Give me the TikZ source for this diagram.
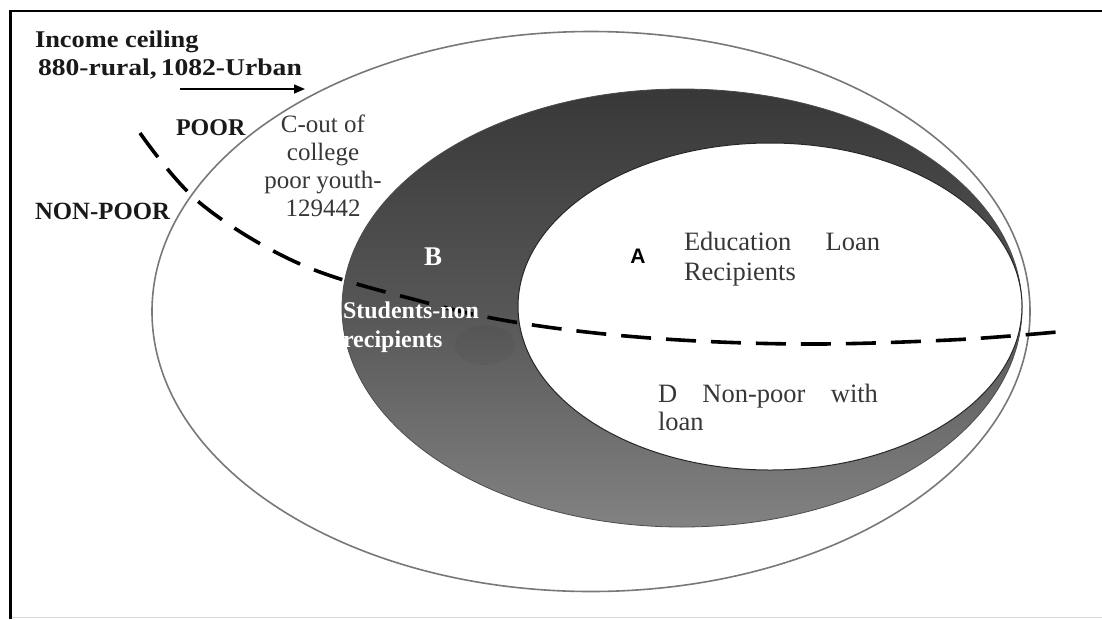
\documentclass[tikz,border=0pt]{standalone}
\usepackage{fontspec}
\setmainfont{Liberation Serif}
\newfontfamily\sansA{Liberation Sans}
\newfontfamily\wideB[FakeStretch=1.10]{Liberation Serif}
\newfontfamily\widerB[FakeStretch=1.15]{Liberation Serif}
\usetikzlibrary{arrows.meta}
\definecolor{txtgray}{RGB}{55,55,55}
\definecolor{outerline}{RGB}{120,120,120}
\definecolor{darktop}{RGB}{56,56,56}
\definecolor{darkbot}{RGB}{130,130,130}
\tikzset{
  lbl/.style={inner sep=0pt, outer sep=0pt, font=\fontsize{24}{28}\selectfont\bfseries, text=black!90},
  body/.style={inner sep=0pt, outer sep=0pt, font=\fontsize{25.5}{28}\selectfont, text=txtgray},
  whitelbl/.style={inner sep=0pt, outer sep=0pt, font=\fontsize{24}{29}\selectfont\bfseries, text=white},
  divider/.style={line width=3.6pt, dash pattern=on 30pt off 15pt, black},
}
\begin{document}
\begin{tikzpicture}[x=1pt, y=-1pt]
\useasboundingbox (0,0) rectangle (1102,619);
% frame
\draw[line width=2.8pt, black] (1102,11) -- (10.5,11) -- (10.5,619);
\draw[line width=1.5pt, black!15] (12,617.5) -- (1102,617.5);
% outer ellipse
\draw[line width=1.6pt, outerline] (591,311.5) ellipse [x radius=439, y radius=280];
% shaded middle ellipse
\shade[top color=darktop, bottom color=darkbot, middle color={rgb,255:red,86;green,86;blue,86}]
  (682,308) ellipse [x radius=340, y radius=219];
\draw[line width=0.8pt, black!70] (682,308) ellipse [x radius=340, y radius=219];
% subtle blob
\fill[black, opacity=0.035] (485,345) ellipse [x radius=30, y radius=20];
% inner white ellipse
\filldraw[fill=white, draw=black!85, line width=1pt] (770,306.5) ellipse [x radius=252, y radius=163.5];
% dashed poverty line
\draw[divider] plot[smooth, tension=0.6] coordinates {(140,133) (200,203) (300,264) (420,301) (520,323) (650,338) (800,344) (950,340) (1057,332)};
% arrow
\coordinate (arrS) at (180,89);
\coordinate (arrE) at (305,89);
\draw[line width=1.5pt, -{Triangle[length=11pt, width=9pt]}] (arrS) -- (arrE);
% labels
\node[lbl, anchor=base west] (inc) at (35,47) {\wideB\fontsize{24}{28}\selectfont\bfseries Income ceiling};
\node[lbl, anchor=base west] (ru) at (38,75) {\widerB\fontsize{24}{28}\selectfont\bfseries 880-rural,\,1082-Urban};
\node[lbl, anchor=base west] (poor) at (176,135) {POOR};
\node[lbl, anchor=base west, font=\fontsize{24.8}{28}\selectfont\bfseries] (npoor) at (35,219) {NON-POOR};
\node[body, anchor=north, align=center, font=\fontsize{25}{28}\selectfont] (cout) at (323,115) {C-out of\\college\\poor youth-\\129442};
\node[whitelbl, font=\fontsize{27}{29}\selectfont\bfseries] (b) at (433,257) {B};
\node[whitelbl, anchor=base west, align=left] (stud) at (343,347) {Students-non\\recipients};
\node[inner sep=0pt, font=\sansA\fontsize{21}{24}\selectfont\bfseries] (a) at (638,256) {A};
\node[body, anchor=base west, align=left, font=\fontsize{26.5}{30}\selectfont] (edu) at (684,280) {\makebox[196pt][s]{Education Loan}\\Recipients};
\node[body, anchor=base west, align=left, font=\fontsize{26.5}{28}\selectfont] (dnp) at (658,430) {\makebox[220pt][s]{D Non-poor with}\\loan};
\end{tikzpicture}
\end{document}
